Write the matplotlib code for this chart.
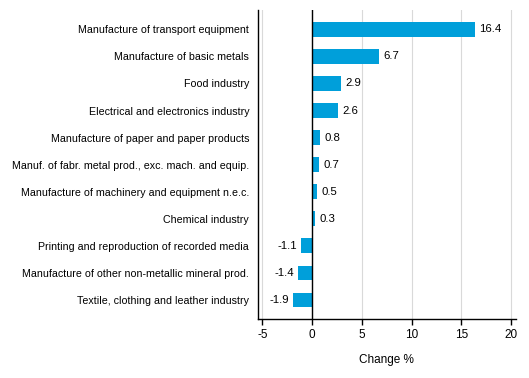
import matplotlib

matplotlib.use("Agg")
import matplotlib.pyplot as plt

plt.rcParams["font.family"] = ["Liberation Sans", "DejaVu Sans"]

# Industry branches, top to bottom as drawn
categories = [
    "Manufacture of transport equipment",
    "Manufacture of basic metals",
    "Food industry",
    "Electrical and electronics industry",
    "Manufacture of paper and paper products",
    "Manuf. of fabr. metal prod., exc. mach. and equip.",
    "Manufacture of machinery and equipment n.e.c.",
    "Chemical industry",
    "Printing and reproduction of recorded media",
    "Manufacture of other non-metallic mineral prod.",
    "Textile, clothing and leather industry",
]
change_pct = [16.4, 6.7, 2.9, 2.6, 0.8, 0.7, 0.5, 0.3, -1.1, -1.4, -1.9]
x_ticks = [-5, 0, 5, 10, 15, 20]

BAR_COLOR = "#009fda"

fig = plt.figure(figsize=(5.29, 3.78), dpi=100)
ax = fig.add_axes([0.4868, 0.1553, 0.4886, 0.8182])

positions = list(range(len(categories)))
ax.barh(positions, change_pct, height=0.545, color=BAR_COLOR, zorder=3)

for pos, value in zip(positions, change_pct):
    offset = 3 if value >= 0 else -3
    ax.annotate(
        f"{value:.1f}",
        xy=(value, pos),
        xytext=(offset, 0),
        textcoords="offset points",
        ha="left" if value >= 0 else "right",
        va="center",
        fontsize=8.2,
        color="#000000",
    )

ax.set_ylim(len(categories) - 1 + 0.715, -0.715)
ax.set_xlim(-5.5, 20.5)
ax.set_xticks(x_ticks)
ax.set_xticklabels([str(t) for t in x_ticks])
ax.set_yticks(positions)
ax.set_yticklabels(categories)

ax.grid(axis="x", color="#d9d9d9", linewidth=0.8, zorder=0)
ax.axvline(0, color="black", linewidth=1.0, zorder=4)

for side in ("top", "right"):
    ax.spines[side].set_visible(False)
ax.spines["left"].set_linewidth(1.0)
ax.spines["bottom"].set_linewidth(1.0)

ax.tick_params(axis="y", length=0, pad=6, labelsize=7.7)
ax.tick_params(axis="x", length=4, width=1.0, pad=3, labelsize=8.5)
ax.set_xlabel("Change %", fontsize=8.5, labelpad=9)

fig.savefig("out.png", dpi=100)
